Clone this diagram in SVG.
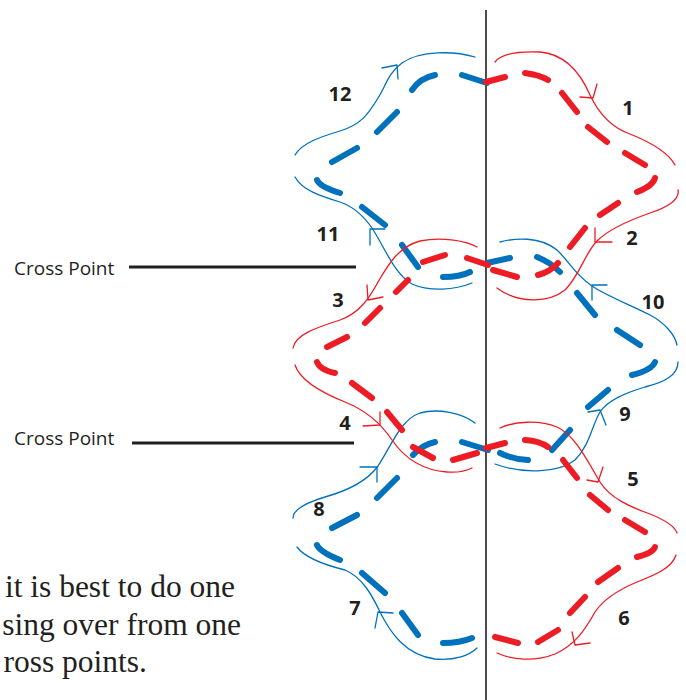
<svg xmlns="http://www.w3.org/2000/svg" width="686" height="700" viewBox="0 0 686 700">
<style>
.thin{fill:none;stroke-width:1.3;stroke-linecap:round;stroke-linejoin:round}
.dash{fill:none;stroke-width:6;stroke-linecap:round}
.b{stroke:#0071bc}
.r{stroke:#ed1c24}
.num{font-family:"Open Sans","Liberation Sans",sans-serif;font-weight:bold;font-size:20px;fill:#231f20;text-anchor:middle}
.cp{font-family:"Open Sans","Liberation Sans",sans-serif;font-size:19px;fill:#231f20}
.cap{font-family:"Liberation Serif",serif;font-size:31.5px;fill:#231f20;text-anchor:end}
.k{stroke:#231f20;fill:none}
</style>
<rect width="686" height="700" fill="#fff"/>
<g id="axis"><line class="k" x1="486" y1="10" x2="486" y2="700" stroke-width="1.6"/></g>

<g id="blue-thread">
<g class="thin b">
<path d="M475,57 C455,51 420,50 402,63 C388,73 385,88 378,98 C368,115 360,125 340,131 C320,137 302,143 295,155"/>
<path d="M382,68 L397,65 L398,79"/>
<path d="M295,177 C302,190 320,196 340,202 C355,207 365,218 372,228 C385,248 395,275 412,284 C430,292 455,290 472,283"/>
<path d="M370,245 L370,229 L385,229"/>
<path d="M500,242 C515,238 540,236 557,250 C568,260 575,275 592,286 C605,295 630,305 650,315 C665,323 675,335 677,345"/>
<path d="M607,285 L592,285 L592,300"/>
<path d="M678,362 C678,375 665,382 645,387 C625,393 608,400 600,412 C592,425 590,445 575,460 C560,472 525,475 495,464"/>
<path d="M588,412 L600,410 L606,425"/>
<path d="M475,423 C462,413 438,408 420,413 C400,420 392,445 378,466 C368,480 350,490 325,497 C305,503 293,510 293,518"/>
<path d="M360,467 L377,467 L377,482"/>
<path d="M297,547 C305,558 325,565 345,570 C362,577 372,595 380,612 C390,632 405,655 435,659 C455,661 470,655 477,648"/>
<path d="M375,628 L378,612 L393,613"/>
</g>
<g class="dash b">
<path d="M462,75 L487,83"/>
<path d="M435,75 Q420,78 412,90"/>
<path d="M397,112 L377,132"/>
<path d="M357,148 L332,162"/>
<path d="M317,180 Q320,187 340,193"/>
<path d="M362,207 L385,225"/>
<path d="M402,245 L418,267"/>
<path d="M443,277 Q460,277 470,272"/>
<path d="M487,263 L510,258"/>
<path d="M537,257 Q550,262 560,272"/>
<path d="M577,293 L595,315"/>
<path d="M617,330 L640,345"/>
<path d="M655,362 Q652,370 632,375"/>
<path d="M608,390 L588,407"/>
<path d="M570,430 L552,450"/>
<path d="M500,453 Q512,459 528,460"/>
<path d="M462,442 L488,450"/>
<path d="M413,455 Q422,445 435,442"/>
<path d="M397,478 L377,498"/>
<path d="M357,515 L332,528"/>
<path d="M317,545 Q320,552 340,560"/>
<path d="M362,573 L385,593"/>
<path d="M402,613 L418,635"/>
<path d="M443,643 Q460,643 472,638"/>
</g>
</g>

<g id="red-thread">
<g class="thin r">
<path d="M495,62 C500,55 515,51 540,52 C565,54 580,72 590,95 C598,112 610,127 630,134 C650,142 668,152 675,165"/>
<path d="M597,84 L593,98 L580,97"/>
<path d="M678,190 C680,200 668,207 650,213 C630,220 608,230 597,241 C585,253 580,275 565,290 C550,302 520,305 497,288"/>
<path d="M612,242 L595,242 L595,228"/>
<path d="M477,247 C465,240 440,237 420,241 C398,247 388,265 378,282 C370,297 360,313 340,320 C315,328 295,335 293,348"/>
<path d="M367,285 L368,300 L383,297"/>
<path d="M295,365 C300,380 320,392 345,402 C365,410 380,422 392,440 C403,456 420,470 447,472 C460,473 468,470 472,468"/>
<path d="M363,426 L380,425 L380,412"/>
<path d="M500,428 C515,421 540,420 557,427 C575,435 588,462 600,482 C610,498 630,507 650,514 C665,520 675,527 677,533"/>
<path d="M603,467 L598,482 L587,480"/>
<path d="M676,555 C672,568 655,575 637,582 C618,590 603,600 595,612 C585,630 575,645 555,654 C535,662 512,660 497,653"/>
<path d="M572,632 L575,645 L590,643"/>
</g>
<g class="dash r">
<path d="M486,82 L505,77"/>
<path d="M525,73 Q540,75 548,80"/>
<path d="M562,93 L577,112"/>
<path d="M588,127 L607,142"/>
<path d="M625,153 L645,165"/>
<path d="M655,178 Q653,186 637,192"/>
<path d="M618,203 L600,215"/>
<path d="M585,228 L570,247"/>
<path d="M558,263 Q550,272 538,275"/>
<path d="M517,277 L493,270"/>
<path d="M467,258 L488,265"/>
<path d="M445,255 L423,262"/>
<path d="M408,280 L396,292"/>
<path d="M380,308 L365,323"/>
<path d="M347,337 L327,347"/>
<path d="M317,362 Q320,370 335,373"/>
<path d="M352,383 L372,398"/>
<path d="M387,412 L402,430"/>
<path d="M413,447 L433,458"/>
<path d="M453,460 L477,453"/>
<path d="M486,448 L505,443"/>
<path d="M525,440 Q540,441 548,447"/>
<path d="M563,460 L577,478"/>
<path d="M590,495 L608,510"/>
<path d="M625,520 L645,532"/>
<path d="M655,547 Q653,553 637,557"/>
<path d="M618,568 L598,582"/>
<path d="M585,597 L570,613"/>
<path d="M558,630 L538,642"/>
<path d="M518,643 L495,637"/>
</g>
</g>

<g id="labels">
<text class="num" x="340" y="101">12</text>
<text class="num" x="628" y="115">1</text>
<text class="num" x="328" y="241">11</text>
<text class="num" x="632" y="245">2</text>
<text class="num" x="338" y="307">3</text>
<text class="num" x="653" y="309">10</text>
<text class="num" x="345" y="430">4</text>
<text class="num" x="625" y="421">9</text>
<text class="num" x="633" y="486">5</text>
<text class="num" x="319" y="516">8</text>
<text class="num" x="355" y="615">7</text>
<text class="num" x="624" y="625">6</text>
</g>

<g id="cross-point-1">
<text class="cp" x="14" y="275">Cross Point</text>
<line class="k" x1="129" y1="267" x2="356" y2="267" stroke-width="3"/>
</g>
<g id="cross-point-2">
<text class="cp" x="14" y="445">Cross Point</text>
<line class="k" x1="132" y1="443" x2="354" y2="443" stroke-width="3"/>
</g>

<g id="caption">
<text class="cap" x="235" y="597">it is best to do one</text>
<text class="cap" x="241" y="635">sing over from one</text>
<text class="cap" x="147" y="672">ross points.</text>
</g>
</svg>
